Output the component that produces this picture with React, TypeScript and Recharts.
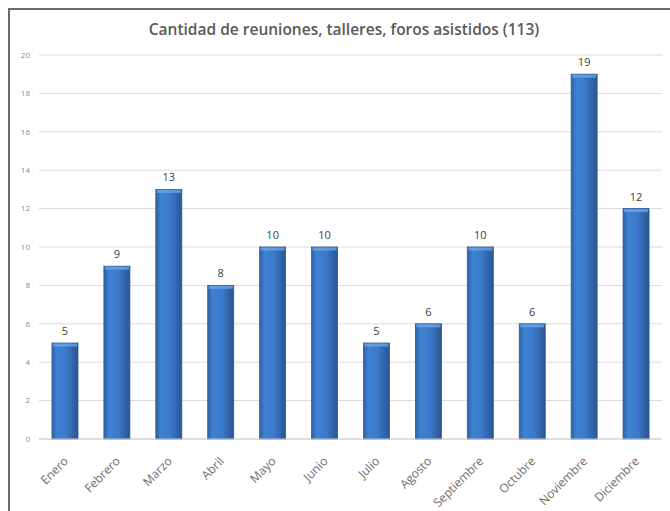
import { BarChart, Bar, XAxis, YAxis, CartesianGrid, LabelList } from "recharts"

const months = ["Enero", "Febrero", "Marzo", "Abril", "Mayo", "Junio", "Julio", "Agosto", "Septiembre", "Octubre", "Noviembre", "Diciembre"]
const counts = [5, 9, 13, 8, 10, 10, 5, 6, 10, 6, 19, 12]
const yTicks = [0, 2, 4, 6, 8, 10, 12, 14, 16, 18, 20]

const data = months.map((m, i) => ({ month: m, value: counts[i] }))

const font = "'Open Sans', 'Liberation Sans', sans-serif"

function BarShape(props: any) {
  const { x, y, width, height } = props
  if (!height || height <= 0) return null
  return (
    <g>
      <rect x={x} y={y} width={width} height={height} fill="url(#barGrad)" stroke="#2c5a94" strokeWidth={0.8} />
      <rect x={x + 1} y={y + 0.5} width={width - 2} height={3} fill="#6aa5e6" opacity={0.8} />
    </g>
  )
}

function MonthTick(props: any) {
  const { x, y, payload } = props
  return (
    <g transform={`translate(${x + 4},${y + 15}) rotate(-45)`}>
      <text x={0} y={0} textAnchor="end" fill="#6e6e6e" fontSize={12} fontFamily={font}>
        {payload.value}
      </text>
    </g>
  )
}

export default function App() {
  return (
    <div style={{ position: "absolute", left: 0, top: 0, width: 670, height: 511, background: "#fff", overflow: "hidden" }}>
      <div style={{ position: "absolute", left: 8, top: 8, width: 662, height: 2, background: "#6a6a6a" }} />
      <div style={{ position: "absolute", left: 8, top: 8, width: 2, height: 503, background: "#6a6a6a" }} />
      <div
        style={{
          position: "absolute",
          left: 0,
          width: 688,
          top: 18,
          textAlign: "center",
          fontFamily: font,
          fontWeight: 600,
          fontSize: 15.5,
          color: "#595959",
        }}
      >
        Cantidad de reuniones, talleres, foros asistidos (113)
      </div>
      <div style={{ position: "absolute", left: 0, top: 0 }}>
        <BarChart width={670} height={511} data={data} margin={{ top: 55, right: 8, left: 9, bottom: 0 }} barCategoryGap="25%">
          <defs>
            <linearGradient id="barGrad" x1="0" y1="0" x2="1" y2="0">
              <stop offset="0%" stopColor="#2f62a6" />
              <stop offset="20%" stopColor="#3f82d2" />
              <stop offset="55%" stopColor="#3a7acb" />
              <stop offset="100%" stopColor="#2a5590" />
            </linearGradient>
          </defs>
          <CartesianGrid vertical={false} stroke="#dadada" />
          <XAxis
            dataKey="month"
            interval={0}
            height={72}
            axisLine={{ stroke: "#d0d0d0" }}
            tickLine={false}
            tick={<MonthTick />}
          />
          <YAxis
            width={30}
            domain={[0, 20]}
            ticks={yTicks}
            axisLine={false}
            tickLine={false}
            tickSize={0}
            tickMargin={9}
            tick={{ fill: "#8a8a8a", fontSize: 8, fontFamily: font }}
          />
          <Bar dataKey="value" shape={<BarShape />} isAnimationActive={false}>
            <LabelList dataKey="value" position="top" offset={8} style={{ fill: "#404040" }} fontSize={11} fontFamily={font} />
          </Bar>
        </BarChart>
      </div>
    </div>
  )
}
